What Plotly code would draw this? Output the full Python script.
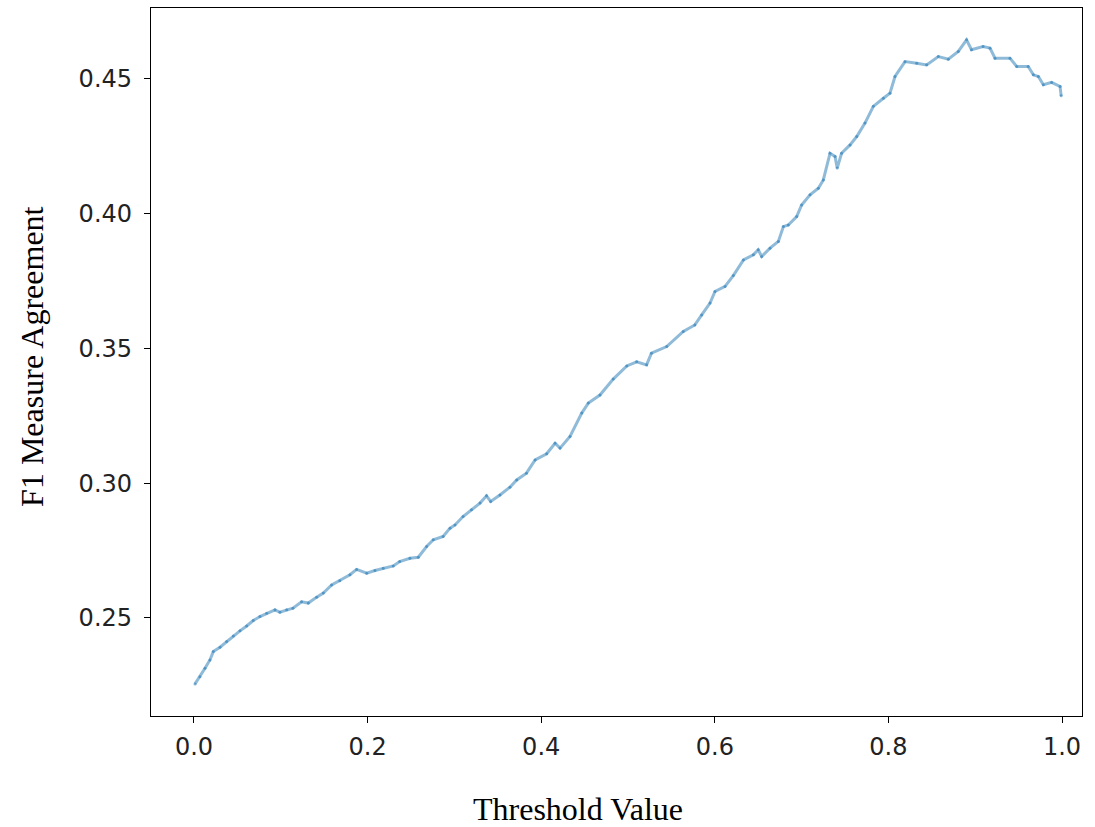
import plotly.graph_objects as go

threshold = [0.0012, 0.0069, 0.0127, 0.0184, 0.0223, 0.030, 0.0376, 0.0453, 0.053, 0.0607,
             0.0683, 0.076, 0.0837, 0.0933, 0.099, 0.1068, 0.114, 0.124, 0.1317, 0.1413,
             0.149, 0.1586, 0.168, 0.1797, 0.1874, 0.199, 0.2085, 0.218, 0.2296, 0.237,
             0.2488, 0.2584, 0.268, 0.2757, 0.287, 0.295, 0.3007, 0.310, 0.3197, 0.3295,
             0.337, 0.3418, 0.3525, 0.364, 0.3718, 0.383, 0.393, 0.4063, 0.416, 0.4217,
             0.4332, 0.4467, 0.4543, 0.4677, 0.483, 0.4986, 0.510, 0.5214, 0.527, 0.5446,
             0.5637, 0.577, 0.5849, 0.5945, 0.6002, 0.6118, 0.6213, 0.633, 0.6444, 0.650,
             0.654, 0.6636, 0.6732, 0.679, 0.6847, 0.6943, 0.700, 0.7097, 0.7193, 0.725,
             0.7327, 0.7385, 0.741, 0.746, 0.7558, 0.7635, 0.773, 0.7826, 0.7942, 0.8018,
             0.8076, 0.8191, 0.8326, 0.844, 0.8575, 0.869, 0.8805, 0.890, 0.8957, 0.909,
             0.917, 0.9228, 0.940, 0.9478, 0.961, 0.967, 0.9727, 0.9785, 0.988, 0.9977,
             0.999]
f1_agreement = [0.2255, 0.2282, 0.2313, 0.2344, 0.2375, 0.2391, 0.2412, 0.2433, 0.2452, 0.2470,
                0.2490, 0.2505, 0.2517, 0.2530, 0.2521, 0.2530, 0.2536, 0.2560, 0.2555, 0.2577,
                0.2592, 0.2622, 0.2638, 0.2660, 0.2680, 0.2666, 0.2676, 0.2684, 0.2693, 0.2709,
                0.2721, 0.2725, 0.2765, 0.2790, 0.2802, 0.2833, 0.2845, 0.2876, 0.2901, 0.2926,
                0.2953, 0.2932, 0.2956, 0.2985, 0.3012, 0.3037, 0.3086, 0.3109, 0.3148, 0.3130,
                0.3173, 0.3260, 0.3297, 0.3327, 0.3386, 0.3435, 0.3450, 0.3439, 0.3482, 0.3507,
                0.3563, 0.3587, 0.3624, 0.3668, 0.3711, 0.3730, 0.3770, 0.3828, 0.3847, 0.3866,
                0.3841, 0.3872, 0.3897, 0.3952, 0.3958, 0.3989, 0.4032, 0.4070, 0.4094, 0.4125,
                0.4224, 0.4212, 0.4169, 0.4224, 0.4255, 0.4286, 0.4336, 0.4398, 0.4428, 0.4447,
                0.4509, 0.4564, 0.4558, 0.4552, 0.4583, 0.4573, 0.4602, 0.4645, 0.4608, 0.4620,
                0.4614, 0.4577, 0.4577, 0.4546, 0.4546, 0.4515, 0.4509, 0.4478, 0.4487, 0.4472,
                0.4437]

x_ticks = [0.0, 0.2, 0.4, 0.6, 0.8, 1.0]
x_tick_labels = ["0.0", "0.2", "0.4", "0.6", "0.8", "1.0"]
y_ticks = [0.25, 0.30, 0.35, 0.40, 0.45]
y_tick_labels = ["0.25", "0.30", "0.35", "0.40", "0.45"]

fig = go.Figure()
fig.add_trace(go.Scatter(
    x=threshold, y=f1_agreement, mode="lines+markers",
    line=dict(color="rgba(31,119,180,0.5)", width=3),
    marker=dict(size=3, color="rgba(31,119,180,0.55)"),
    showlegend=False, hoverinfo="x+y",
))

axis_common = dict(
    showline=True, linecolor="black", linewidth=1.3, mirror=True,
    ticks="outside", ticklen=6, tickwidth=1.2, tickcolor="black",
    showgrid=False, zeroline=False,
    tickfont=dict(family="DejaVu Sans", size=24, color="#222"),
)

fig.update_xaxes(range=[-0.0495, 1.023], tickmode="array", tickvals=x_ticks,
                 ticktext=x_tick_labels, ticklabelstandoff=3, **axis_common)
fig.update_yaxes(range=[0.2136, 0.4763], tickmode="array", tickvals=y_ticks,
                 ticktext=y_tick_labels, ticklabelstandoff=7, **axis_common)

fig.update_layout(
    width=1095, height=827,
    margin=dict(l=151, r=13, t=8, b=111),
    paper_bgcolor="white", plot_bgcolor="white",
    annotations=[
        dict(text="Threshold Value", xref="paper", yref="paper",
             x=0.4586, y=-0.131, showarrow=False, xanchor="center", yanchor="middle",
             font=dict(family="Liberation Serif", size=32, color="black")),
        dict(text="F1 Measure Agreement", xref="paper", yref="paper",
             x=-0.128, y=0.507, showarrow=False, textangle=-90,
             xanchor="center", yanchor="middle",
             font=dict(family="Liberation Serif", size=32, color="black")),
    ],
)

fig.write_html("out.html")
